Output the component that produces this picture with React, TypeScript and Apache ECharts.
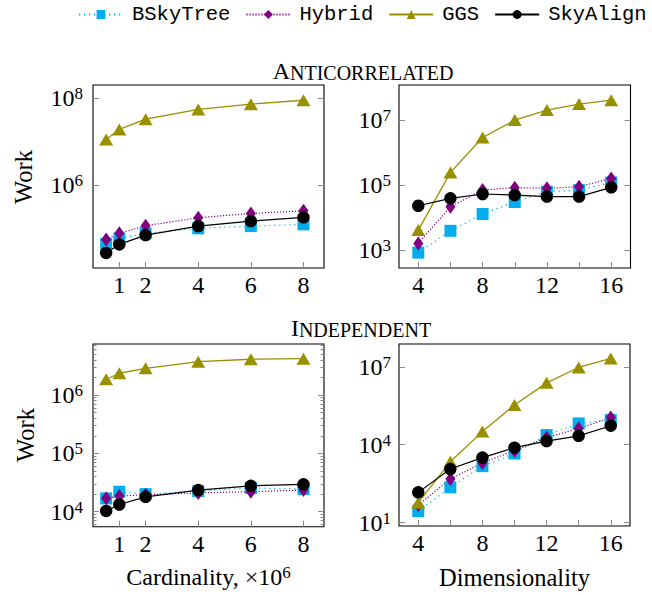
import React, { useEffect, useRef } from 'react';
import * as echarts from 'echarts';

// ---------- data ----------
const seriesNames = ['BSkyTree', 'Hybrid', 'GGS', 'SkyAlign'];

const cardinality = [0.5, 1, 2, 4, 6, 8];
const dimensionality = [4, 6, 8, 10, 12, 14, 16];

const cardinalityTicks = [1, 2, 4, 6, 8];
const dimensionalityTicks = [4, 6, 8, 10, 12, 14, 16];
const dimensionalityLabels = [4, 8, 12, 16];

// y tick exponents (10^n)
const acCardYTicks = [6, 8];
const acDimYTicks = [3, 5, 7];
const inCardYTicks = [4, 5, 6];
const inDimYTicks = [1, 4, 7];

// Anticorrelated, by cardinality
const acCardBSkyTree = [4.5e4, 6.0e4, 7.9e4, 1.03e5, 1.16e5, 1.27e5];
const acCardHybrid = [5.7e4, 7.9e4, 1.18e5, 1.8e5, 2.27e5, 2.6e5];
const acCardGGS = [1.14e7, 1.94e7, 3.34e7, 5.6e7, 7.4e7, 9.1e7];
const acCardSkyAlign = [2.8e4, 4.4e4, 7.2e4, 1.16e5, 1.51e5, 1.84e5];

// Anticorrelated, by dimensionality
const acDimBSkyTree = [830, 3.9e3, 1.28e4, 3.0e4, 6.2e4, 7.0e4, 1.2e5];
const acDimHybrid = [1.6e3, 2.15e4, 7.0e4, 8.3e4, 7.9e4, 8.9e4, 1.6e5];
const acDimGGS = [4.1e3, 2.45e5, 2.9e6, 1.0e7, 2.03e7, 3.1e7, 4.1e7];
const acDimSkyAlign = [2.3e4, 3.9e4, 5.3e4, 4.9e4, 4.4e4, 4.4e4, 8.5e4];

// Independent, by cardinality
const inCardBSkyTree = [1.69e4, 2.2e4, 2.0e4, 2.25e4, 2.55e4, 2.45e4];
const inCardHybrid = [1.7e4, 1.85e4, 1.95e4, 2.1e4, 2.2e4, 2.35e4];
const inCardGGS = [1.86e6, 2.36e6, 2.87e6, 3.72e6, 4.1e6, 4.2e6];
const inCardSkyAlign = [1.03e4, 1.33e4, 1.8e4, 2.35e4, 2.78e4, 2.94e4];

// Independent, by dimensionality
const inDimBSkyTree = [28, 229, 1.5e3, 4.6e3, 2.35e4, 6.6e4, 8.9e4];
const inDimHybrid = [48, 480, 2.0e3, 5.9e3, 1.9e4, 4.2e4, 1.12e5];
const inDimGGS = [59, 2.2e3, 3.2e4, 3.4e5, 2.4e6, 9.4e6, 2.1e7];
const inDimSkyAlign = [147, 1.16e3, 3.2e3, 7.7e3, 1.38e4, 2.2e4, 5.4e4];

// ---------- styles ----------
const SERIF = 'Liberation Serif';
const MONO = 'Liberation Mono';
const TICK_COLOR = '#888';
const FS = 24;
const SUP = 17;

const seriesStyles = [
  { color: '#00aeef', symbol: 'rect', symbolSize: 12, width: 1.2, dash: [1.2, 3.8] as any },
  { color: '#800080', symbol: 'diamond', symbolSize: [10, 14], width: 1.2, dash: [1.2, 1.8] as any },
  { color: '#999000', symbol: 'triangle', symbolSize: [14, 12], width: 1.3, dash: 'solid' as any },
  { color: '#000000', symbol: 'circle', symbolSize: 12.5, width: 1.2, dash: 'solid' as any },
];

function minorTicks(lo: number, hi: number): number[] {
  const out: number[] = [];
  for (let n = Math.floor(lo) - 1; n <= Math.ceil(hi); n++) {
    for (let k = 2; k <= 9; k++) {
      const v = Math.log10(k * Math.pow(10, n));
      if (v > lo && v < hi) out.push(v);
    }
  }
  return out;
}

const panels = [
  {
    rect: { left: 93, top: 85, width: 231, height: 183 },
    xs: cardinality, xMin: 0, xMax: 8.78, xTicks: cardinalityTicks, xLabels: cardinalityTicks,
    yMin: 4.1, yMax: 8.31, yTicks: acCardYTicks, minor: false, labelMargin: 10,
    data: [acCardBSkyTree, acCardHybrid, acCardGGS, acCardSkyAlign],
  },
  {
    rect: { left: 399, top: 85, width: 231.5, height: 183 },
    xs: dimensionality, xMin: 2.8, xMax: 17.2, xTicks: dimensionalityTicks, xLabels: dimensionalityLabels,
    yMin: 2.446, yMax: 8.08, yTicks: acDimYTicks, minor: false, labelMargin: 8,
    data: [acDimBSkyTree, acDimHybrid, acDimGGS, acDimSkyAlign],
  },
  {
    rect: { left: 93, top: 344, width: 231, height: 182.7 },
    xs: cardinality, xMin: 0, xMax: 8.78, xTicks: cardinalityTicks, xLabels: cardinalityTicks,
    yMin: 3.743, yMax: 6.874, yTicks: inCardYTicks, minor: true, labelMargin: 10,
    data: [inCardBSkyTree, inCardHybrid, inCardGGS, inCardSkyAlign],
  },
  {
    rect: { left: 399, top: 344, width: 231, height: 182 },
    xs: dimensionality, xMin: 2.8, xMax: 17.2, xTicks: dimensionalityTicks, xLabels: dimensionalityLabels,
    yMin: 0.873, yMax: 7.876, yTicks: inDimYTicks, minor: false, labelMargin: 8,
    data: [inDimBSkyTree, inDimHybrid, inDimGGS, inDimSkyAlign],
  },
];

const powRich = {
  m: { fontFamily: SERIF, fontSize: FS, lineHeight: FS, color: '#000' },
  s: { fontFamily: SERIF, fontSize: SUP, lineHeight: SUP, padding: [0, 0, 9, 0], color: '#000' },
};

const capsRich = {
  a: { fontFamily: SERIF, fontSize: 24, lineHeight: 24, verticalAlign: 'bottom', color: '#000' },
  b: { fontFamily: SERIF, fontSize: 20, lineHeight: 20, verticalAlign: 'bottom', color: '#000' },
};

function buildOption() {
  const grid: any[] = [];
  const xAxis: any[] = [];
  const yAxis: any[] = [];
  const series: any[] = [];

  panels.forEach((p) => {
    const gi = grid.length;
    grid.push({
      ...p.rect, show: true, borderColor: '#000', borderWidth: 1.1,
      backgroundColor: 'transparent', containLabel: false, outerBoundsMode: 'none',
    });
    const xi = xAxis.length;
    xAxis.push({
      type: 'value', gridIndex: gi, min: p.xMin, max: p.xMax, position: 'bottom',
      axisLine: { show: false }, splitLine: { show: false },
      axisTick: { show: true, inside: true, length: 6, customValues: p.xTicks, lineStyle: { color: TICK_COLOR, width: 1 } },
      axisLabel: {
        show: true, customValues: p.xLabels, margin: 5,
        fontFamily: SERIF, fontSize: FS, color: '#000', formatter: (v: number) => String(v),
      },
    });
    const yi = yAxis.length;
    const yBase = {
      type: 'value', gridIndex: gi, min: p.yMin, max: p.yMax,
      axisLine: { show: false }, splitLine: { show: false },
    };
    yAxis.push({
      ...yBase, position: 'left',
      axisTick: { show: true, inside: true, length: 6, customValues: p.yTicks, lineStyle: { color: TICK_COLOR, width: 1 } },
      axisLabel: {
        show: true, customValues: p.yTicks, margin: p.labelMargin,
        formatter: (v: number) => `{m|10}{s|${Math.round(v)}}`, rich: powRich,
      },
    });
    yAxis.push({
      ...yBase, position: 'right',
      axisTick: { show: true, inside: true, length: 6, customValues: p.yTicks, lineStyle: { color: TICK_COLOR, width: 1 } },
      axisLabel: { show: false },
    });

    seriesNames.forEach((name, si) => {
      const st = seriesStyles[si];
      const vals = p.data[si];
      series.push({
        type: 'line', name, xAxisIndex: xi, yAxisIndex: yi,
        data: p.xs.map((x, i) => [x, Math.log10(vals[i])]),
        symbol: st.symbol, symbolSize: st.symbolSize, showSymbol: true, showAllSymbol: true,
        lineStyle: { color: st.color, width: st.width, type: st.dash },
        itemStyle: { color: st.color },
        emphasis: { disabled: true },
        silent: true,
      });
    });

    if (p.minor) {
      const mg = grid.length;
      grid.push({ ...p.rect, show: false, containLabel: false, outerBoundsMode: 'none' });
      xAxis.push({
        type: 'value', gridIndex: mg, min: p.xMin, max: p.xMax, show: false,
      });
      const mt = minorTicks(p.yMin, p.yMax);
      ['left', 'right'].forEach((pos) => {
        yAxis.push({
          type: 'value', gridIndex: mg, min: p.yMin, max: p.yMax, position: pos,
          axisLine: { show: false }, splitLine: { show: false },
          axisTick: { show: true, inside: true, length: 3.5, customValues: mt, lineStyle: { color: TICK_COLOR, width: 1 } },
          axisLabel: { show: false },
        });
      });
    }
  });

  const graphic: any[] = [
    {
      type: 'text', x: 363, y: 71,
      style: { text: '{a|A}{b|NTICORRELATED}', align: 'center', verticalAlign: 'middle', rich: capsRich },
    },
    {
      type: 'text', x: 361, y: 328,
      style: { text: '{a|I}{b|NDEPENDENT}', align: 'center', verticalAlign: 'middle', rich: capsRich },
    },
    {
      type: 'text', x: 23, y: 177, rotation: Math.PI / 2,
      style: { text: 'Work', fontFamily: SERIF, fontSize: 24.5, fill: '#000', align: 'center', verticalAlign: 'middle' },
    },
    {
      type: 'text', x: 25, y: 435, rotation: Math.PI / 2,
      style: { text: 'Work', fontFamily: SERIF, fontSize: 24.5, fill: '#000', align: 'center', verticalAlign: 'middle' },
    },
    {
      type: 'text', x: 208.5, y: 577,
      style: { text: '{m|Cardinality, ×10}{s|6}', align: 'center', verticalAlign: 'middle', rich: powRich },
    },
    {
      type: 'text', x: 514.5, y: 577,
      style: { text: 'Dimensionality', fontFamily: SERIF, fontSize: 24.5, fill: '#000', align: 'center', verticalAlign: 'middle' },
    },
  ];

  return {
    animation: false,
    backgroundColor: '#fff',
    legend: {
      show: true, data: seriesNames, left: 78, top: 4, padding: 0,
      itemWidth: 44, itemHeight: 11, itemGap: 15, selectedMode: false,
      textStyle: { fontFamily: MONO, fontSize: 20.5, color: '#000', padding: [0, 0, 0, 4] },
    },
    grid, xAxis, yAxis, series, graphic,
  };
}

export default function App() {
  const ref = useRef<HTMLDivElement>(null);
  useEffect(() => {
    document.body.style.margin = '0';
    if (!ref.current) return;
    const chart = echarts.init(ref.current, undefined, { renderer: 'svg' });
    chart.setOption(buildOption() as any);
    return () => chart.dispose();
  }, []);
  return <div ref={ref} style={{ width: 652, height: 595, position: 'absolute', left: 0, top: 0 }} />;
}
